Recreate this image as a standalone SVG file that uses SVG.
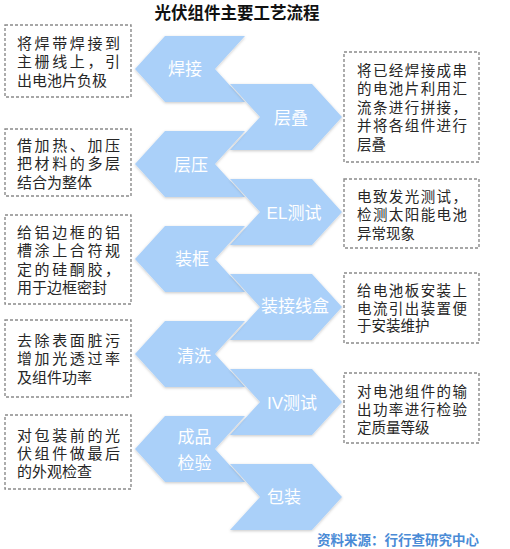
<svg xmlns="http://www.w3.org/2000/svg" width="510" height="549" viewBox="0 0 510 549">
<defs>
<linearGradient id="blue" gradientUnits="userSpaceOnUse" x1="0" y1="40" x2="0" y2="510">
<stop offset="0" stop-color="#aad0f9"/>
<stop offset="1" stop-color="#4196ef"/>
</linearGradient>
<filter id="sh" x="-10%" y="-10%" width="130%" height="130%">
<feDropShadow dx="0" dy="1" stdDeviation="1.5" flood-color="#000" flood-opacity="0.22"/>
</filter>
<polygon id="lc" points="135,0 165,-33 245,-33 215,0 245,33 165,33"/>
<polygon id="rc" points="230,-33 312,-33 342,0 312,33 230,33 260,0"/>
</defs>
<style>
.chev{fill:url(#blue);filter:url(#sh)}
.lbl{font-family:"Liberation Sans","Noto Sans CJK SC",sans-serif;font-size:17px;fill:#fff;text-anchor:middle}
.box{fill:#fff;stroke:#8a8a8a;stroke-width:1.4;stroke-dasharray:3 2}
.tl{font-family:"Liberation Sans","Noto Sans CJK SC",sans-serif;font-size:15px;fill:#262626}
.tr{font-family:"Liberation Sans","Noto Sans CJK SC",sans-serif;font-size:14.5px;fill:#262626}
.title{font-family:"Liberation Sans","Noto Sans CJK SC",sans-serif;font-size:16.5px;font-weight:bold;fill:#111;text-anchor:middle}
.src{font-family:"Liberation Sans","Noto Sans CJK SC",sans-serif;font-size:13.5px;font-weight:bold;fill:#4a8bd6}
</style>
<rect width="510" height="549" fill="#fff"/>
<text class="title" x="237" y="18.5">光伏组件主要工艺流程</text>

<g id="node-hanjie"><use href="#lc" y="69" class="chev"/><text class="lbl" x="185" y="75">焊接</text></g>
<g id="node-cengdie"><use href="#rc" y="117" class="chev"/><text class="lbl" x="291" y="123.5">层叠</text></g>
<g id="node-cengya"><use href="#lc" y="164" class="chev"/><text class="lbl" x="191" y="170.5">层压</text></g>
<g id="node-el"><use href="#rc" y="212" class="chev"/><text class="lbl" x="294" y="218.5">EL测试</text></g>
<g id="node-zhuangkuang"><use href="#lc" y="259" class="chev"/><text class="lbl" x="192" y="265">装框</text></g>
<g id="node-jiexianhe"><use href="#rc" y="307" class="chev"/><text class="lbl" x="295" y="311.5">装接线盒</text></g>
<g id="node-qingxi"><use href="#lc" y="354" class="chev"/><text class="lbl" x="194" y="362">清洗</text></g>
<g id="node-iv"><use href="#rc" y="402" class="chev"/><text class="lbl" x="292" y="408.5">IV测试</text></g>
<g id="node-jianyan"><use href="#lc" y="449" class="chev"/><text class="lbl" x="194.5" y="443">成品</text><text class="lbl" x="194.5" y="469">检验</text></g>
<g id="node-baozhuang"><use href="#rc" y="497" class="chev"/><text class="lbl" x="284" y="503">包装</text></g>

<g id="note-hanjie"><rect class="box" x="5" y="25" width="126" height="72"/>
<text class="tl" x="17" y="48.5" textLength="103" lengthAdjust="spacing">将焊带焊接到</text>
<text class="tl" x="17" y="67" textLength="103" lengthAdjust="spacing">主栅线上，引</text>
<text class="tl" x="17" y="85.5">出电池片负极</text></g>

<g id="note-cengdie"><rect class="box" x="344" y="52" width="135" height="110"/>
<text class="tr" x="357" y="75.5" textLength="110" lengthAdjust="spacing">将已经焊接成串</text>
<text class="tr" x="357" y="94" textLength="110" lengthAdjust="spacing">的电池片利用汇</text>
<text class="tr" x="357" y="112.5" textLength="110" lengthAdjust="spacing">流条进行拼接，</text>
<text class="tr" x="357" y="131" textLength="110" lengthAdjust="spacing">并将各组件进行</text>
<text class="tr" x="357" y="150">层叠</text></g>

<g id="note-cengya"><rect class="box" x="5" y="129" width="126" height="67"/>
<text class="tl" x="17" y="150.5" textLength="103" lengthAdjust="spacing">借加热、加压</text>
<text class="tl" x="17" y="169" textLength="103" lengthAdjust="spacing">把材料的多层</text>
<text class="tl" x="17" y="187.5">结合为整体</text></g>

<g id="note-el"><rect class="box" x="344" y="179" width="135" height="69"/>
<text class="tr" x="357" y="201.5" textLength="110" lengthAdjust="spacing">电致发光测试，</text>
<text class="tr" x="357" y="220" textLength="110" lengthAdjust="spacing">检测太阳能电池</text>
<text class="tr" x="357" y="238.5">异常现象</text></g>

<g id="note-zhuangkuang"><rect class="box" x="5" y="215" width="126" height="89"/>
<text class="tl" x="17" y="237.5" textLength="103" lengthAdjust="spacing">给铝边框的铝</text>
<text class="tl" x="17" y="256" textLength="103" lengthAdjust="spacing">槽涂上合符规</text>
<text class="tl" x="17" y="274.5" textLength="103" lengthAdjust="spacing">定的硅酮胶，</text>
<text class="tl" x="17" y="293">用于边框密封</text></g>

<g id="note-jiexianhe"><rect class="box" x="344" y="273" width="135" height="70"/>
<text class="tr" x="357" y="296" textLength="110" lengthAdjust="spacing">给电池板安装上</text>
<text class="tr" x="357" y="313.5" textLength="110" lengthAdjust="spacing">电流引出装置便</text>
<text class="tr" x="357" y="331">于安装维护</text></g>

<g id="note-qingxi"><rect class="box" x="5" y="320" width="126" height="77"/>
<text class="tl" x="17" y="345.5" textLength="103" lengthAdjust="spacing">去除表面脏污</text>
<text class="tl" x="17" y="364" textLength="103" lengthAdjust="spacing">增加光透过率</text>
<text class="tl" x="17" y="382.5">及组件功率</text></g>

<g id="note-iv"><rect class="box" x="344" y="373" width="135" height="70"/>
<text class="tr" x="357" y="396.5" textLength="110" lengthAdjust="spacing">对电池组件的输</text>
<text class="tr" x="357" y="414.5" textLength="110" lengthAdjust="spacing">出功率进行检验</text>
<text class="tr" x="357" y="432.5">定质量等级</text></g>

<g id="note-jianyan"><rect class="box" x="5" y="415" width="126" height="74"/>
<text class="tl" x="17" y="440.5" textLength="103" lengthAdjust="spacing">对包装前的光</text>
<text class="tl" x="17" y="458.5" textLength="103" lengthAdjust="spacing">伏组件做最后</text>
<text class="tl" x="17" y="476.5">的外观检查</text></g>

<text class="src" x="317" y="545">资料来源：行行查研究中心</text>
</svg>
